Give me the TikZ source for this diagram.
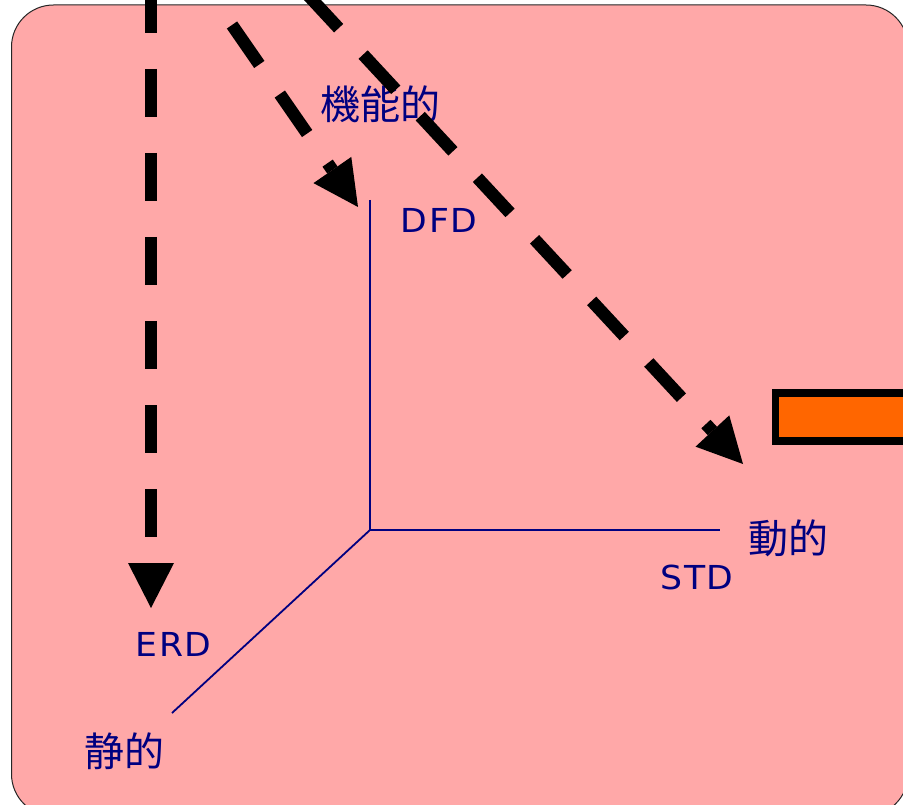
\documentclass[tikz,border=0pt]{standalone}
\usepackage{fontspec}
\setmainfont{Noto Sans CJK JP}
\newfontfamily\latinf[LetterSpace=5,FakeStretch=1.05]{DejaVu Sans}
\usetikzlibrary{arrows.meta}
\definecolor{pinkbg}{HTML}{FFA8A8}
\definecolor{navyc}{HTML}{000080}
\definecolor{orangec}{HTML}{FF6600}
\begin{document}
\begin{tikzpicture}[x=1pt,y=-1pt,
  dasharrow/.style={line width=12.5pt, dash pattern=on 48pt off 36pt,
    -{Triangle[length=45pt,width=46pt,line width=0pt]}},
  axisline/.style={draw=navyc, line width=1.8pt},
  cjk/.style={text=navyc, inner sep=0pt, font=\fontsize{40}{44}\selectfont},
  lat/.style={text=navyc, inner sep=0pt, font=\latinf\fontsize{33}{36}\selectfont}]
\useasboundingbox (0,0) rectangle (903,805);
\clip (0,0) rectangle (903,805);
\fill[white] (0,0) rectangle (903,805);
\draw[fill=pinkbg, draw=black!85, line width=1pt, rounded corners=42pt] (11.5,5) rectangle (908,816);
% orange box
\draw[fill=orangec, line width=7.7pt] (775.5,393) rectangle (930,440.7);
% axes
\coordinate (O) at (370,530);
\coordinate (Ytop) at (370,200);
\coordinate (Xend) at (720,530);
\coordinate (Zend) at (172,713);
\draw[axisline] (Ytop) -- (O) -- (Xend);
\draw[axisline] (O) -- (Zend);
% labels
\node[cjk] (kinou) at (380,104.5) {機能的};
\node[lat] (dfd) at (439,220) {DFD};
\node[cjk] (doteki) at (788.5,538.5) {動的};
\node[lat] (std) at (697,577.5) {STD};
\node[lat] (erd) at (173.5,644.5) {ERD};
\node[cjk] (seiteki) at (124,751.5) {静的};
% dashed arrows
\coordinate (a1s) at (151,-15); \coordinate (a1e) at (151,608);
\coordinate (a2s) at (232,25);  \coordinate (a2e) at (358,207);
\coordinate (a3s) at (306,-7);  \coordinate (a3e) at (743,464);
\draw[dasharrow] (a1s) -- (a1e);
\draw[dasharrow] (a2s) -- (a2e);
\draw[dasharrow] (a3s) -- (a3e);
\end{tikzpicture}
\end{document}
